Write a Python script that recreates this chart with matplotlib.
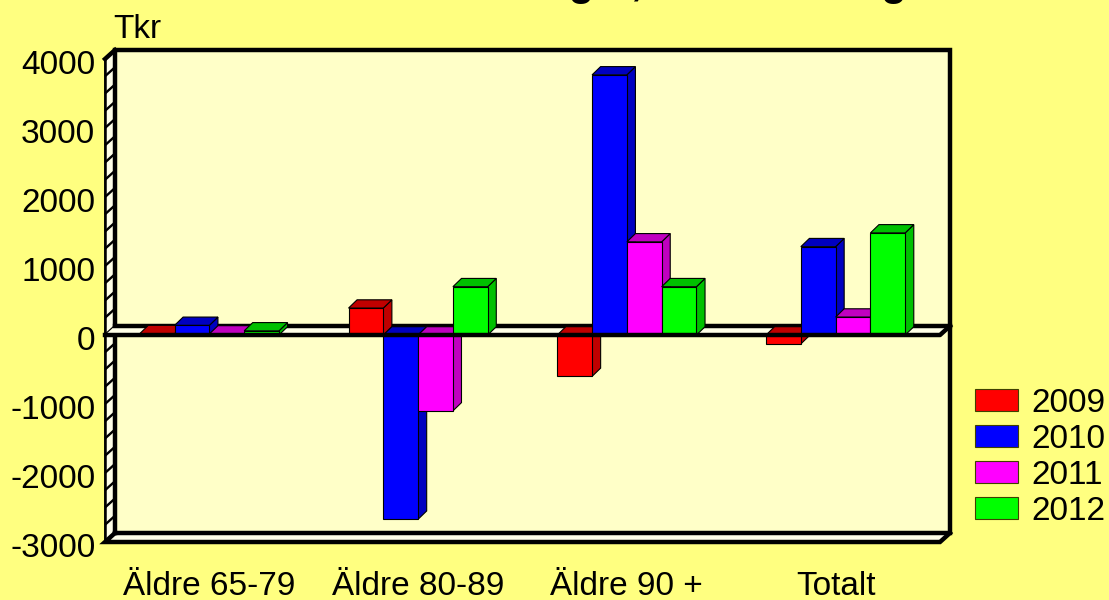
import matplotlib.pyplot as plt
from matplotlib.patches import Polygon, Rectangle, Patch
from matplotlib.transforms import ScaledTranslation

plt.rcParams['font.family'] = ['Liberation Sans', 'DejaVu Sans']

# Data (Tkr)
categories = ["Äldre 65-79", "Äldre 80-89", "Äldre 90 +", "Totalt"]
years = ["2009", "2010", "2011", "2012"]
v2009 = [20, 390, -600, -130]
v2010 = [140, -2670, 3770, 1280]
v2011 = [15, -1100, 1350, 260]
v2012 = [60, 700, 700, 1480]
series = [v2009, v2010, v2011, v2012]

front_cols = ["#FF0000", "#0000FF", "#FF00FF", "#00FF00"]
dark_cols = ["#C00000", "#0000C0", "#C000C0", "#00C000"]

fig_bg = "#FFFF80"
plot_bg = "#FFFFC8"

fig = plt.figure(figsize=(11.09, 6.0), dpi=100, facecolor=fig_bg)
ax = fig.add_axes([105 / 1109, 58 / 600, 835 / 1109, 483 / 600])
ax.set_facecolor(plot_bg)

X0, X1 = -0.5, 3.5
Y0, Y1 = -3000, 4000
ax.set_xlim(X0, X1)
ax.set_ylim(Y0, Y1)
for s in ax.spines.values():
    s.set_visible(False)

# depth of the 3d box (data units)
DX, DY = 0.048, 131
# depth of the bars
BDX, BDY = 0.041, 120

# back wall
ax.add_patch(Rectangle((X0 + DX, Y0 + DY), X1 - X0, Y1 - Y0, facecolor=plot_bg,
                       edgecolor="none", zorder=0.5, clip_on=False))

# left wall with diagonal stripes
wall = Polygon([(X0, Y0), (X0, Y1), (X0 + DX, Y1 + DY), (X0 + DX, Y0 + DY)],
               closed=True, facecolor="#FFFFE8", edgecolor="black", lw=1.2,
               zorder=1, clip_on=False)
ax.add_patch(wall)
for v in range(Y0, Y1 + 1, 250):
    ln, = ax.plot([X0, X0 + DX], [v, v + DY], color="black", lw=1.7,
                  zorder=1.1, clip_on=False, solid_capstyle="butt")
    ln.set_clip_path(wall)

# floor
ax.add_patch(Polygon([(X0, Y0), (X1, Y0), (X1 + DX, Y0 + DY), (X0 + DX, Y0 + DY)],
                     closed=True, facecolor="#FFFFE8", edgecolor="none",
                     zorder=1, clip_on=False))
thick = 3.2
ax.plot([X0 + DX, X0 + DX, X1 + DX, X1 + DX, X0 + DX],
        [Y0 + DY, Y1 + DY, Y1 + DY, Y0 + DY, Y0 + DY],
        color="black", lw=thick, zorder=1.2, clip_on=False, solid_joinstyle="miter")
ax.plot([X0, X0 + DX], [Y1, Y1 + DY], color="black", lw=thick, zorder=1.2, clip_on=False)
ax.plot([X0, X0], [Y0, Y1], color="black", lw=1.8, zorder=1.2, clip_on=False)
ax.plot([X0 + DX, X0, X1, X1 + DX], [Y0 + DY, Y0, Y0, Y0 + DY],
        color="black", lw=thick, zorder=1.2, clip_on=False, solid_joinstyle="miter")

# zero plane
ax.add_patch(Polygon([(X0, 0), (X1, 0), (X1 + DX, DY), (X0 + DX, DY)], closed=True,
                     facecolor="#FFFFE8", edgecolor="none", zorder=1.5, clip_on=False))
ax.plot([X0 + DX, X1 + DX], [DY, DY], color="black", lw=thick, zorder=1.6, clip_on=False)

# bars
bw = 0.1667
offsets = [-1.5 * bw, -0.5 * bw, 0.5 * bw, 1.5 * bw]
for ci in range(len(categories)):
    for si, vals in enumerate(series):
        v = vals[ci]
        xl = ci + offsets[si] - bw / 2
        xr = xl + bw
        top = max(v, 0)
        bot = min(v, 0)
        z = 3 + ci * 0.1 + si * 0.01
        ax.add_patch(Polygon([(xr, bot), (xr, top), (xr + BDX, top + BDY), (xr + BDX, bot + BDY)],
                             closed=True, facecolor=dark_cols[si], edgecolor="black",
                             lw=0.8, zorder=z))
        ax.add_patch(Polygon([(xl, top), (xl + BDX, top + BDY), (xr + BDX, top + BDY), (xr, top)],
                             closed=True, facecolor=dark_cols[si], edgecolor="black",
                             lw=0.8, zorder=z))
        ax.add_patch(Rectangle((xl, 0), bw, v, facecolor=front_cols[si],
                               edgecolor="black", lw=0.8, zorder=z + 0.005))

# zero front edge
ax.plot([X0, X1, X1 + DX], [0, 0, DY], color="black", lw=thick, zorder=5, clip_on=False)

ax.set_yticks(range(Y0, Y1 + 1, 1000))
ax.set_yticklabels([str(t) for t in range(Y0, Y1 + 1, 1000)])
ax.set_xticks(range(len(categories)))
ax.set_xticklabels(categories)
ax.tick_params(axis="y", length=0, pad=7, labelsize=24)
ax.tick_params(axis="x", length=0, pad=21, labelsize=24)
shift = ScaledTranslation(0, -3 / 100, fig.dpi_scale_trans)
for lab in ax.get_yticklabels():
    lab.set_transform(lab.get_transform() + shift)

fig.text(113 / 1109, 1 - 29 / 600, "Tkr", fontsize=24, ha="left", va="center")

# title (mostly cut off at the top edge)
fig.text(0.5, 1.009, "Avvikelse mot budget, äldreomsorg", fontsize=30,
         fontweight="bold", ha="center", va="baseline")

handles = [Patch(facecolor=c, edgecolor="#404000", lw=0.8) for c in front_cols]
fig.legend(handles, years, loc="upper left", bbox_to_anchor=(975 / 1109, 1 - 388 / 600),
           frameon=False, fontsize=24, borderpad=0, borderaxespad=0,
           handlelength=1.3, handleheight=0.62, handletextpad=0.38, labelspacing=0.15)

plt.savefig("out.png", dpi=100, facecolor=fig_bg)
